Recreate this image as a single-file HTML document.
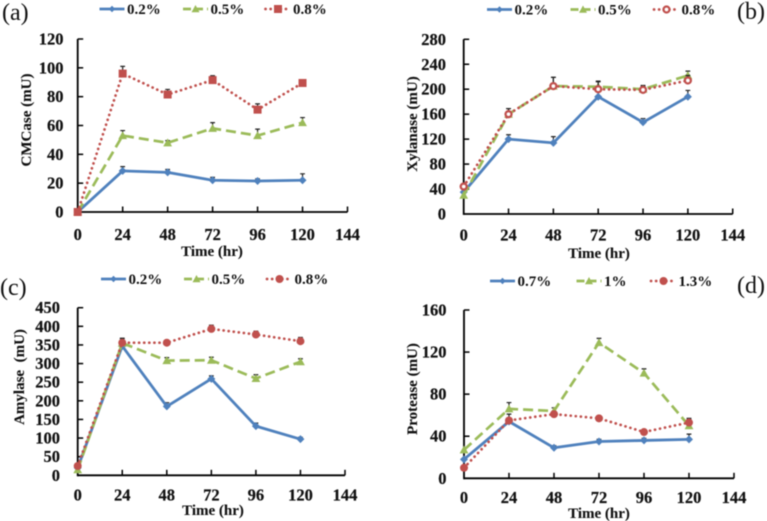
<!DOCTYPE html>
<html lang="en">
<head>
<meta charset="utf-8">
<title>Enzyme activity charts</title>
<style>
html,body{margin:0;padding:0;background:#fff;}
svg{display:block;filter:blur(0.45px);}
text{font-family:"Liberation Serif",serif;fill:#111;}
.tick{font-size:16.5px;font-weight:bold;stroke:#111;stroke-width:0.2px;}
.title{font-size:15px;font-weight:bold;stroke:#111;stroke-width:0.1px;}
.leg{font-size:15px;font-weight:bold;}
.tag{font-size:24px;}
</style>
</head>
<body>
<svg id="fig" xmlns="http://www.w3.org/2000/svg" width="767" height="521" viewBox="0 0 767 521"></svg>
<script>
const hours = [0, 24, 48, 72, 96, 120];
const xTickLabels = [0, 24, 48, 72, 96, 120, 144];

const cmcaseTicks = [0, 20, 40, 60, 80, 100, 120];
const cmcaseLow = [0, 28.5, 27.5, 22, 21.5, 22];
const cmcaseLowErr = [0, 3, 2, 2, 1.5, 4.5];
const cmcaseMid = [0, 53, 48, 58, 53, 62];
const cmcaseMidErr = [0, 3.5, 1.5, 4, 4.5, 3.5];
const cmcaseHigh = [0, 96, 81.5, 91.5, 71, 89.5];
const cmcaseHighErr = [0, 5, 3.5, 3, 4, 1.5];

const xylanaseTicks = [0, 40, 80, 120, 160, 200, 240, 280];
const xylanaseLow = [35, 120, 114, 188, 147, 188];
const xylanaseLowErr = [0, 7, 10, 8, 6, 10];
const xylanaseMid = [30, 160, 205, 204, 200, 222];
const xylanaseMidErr = [0, 9, 14, 8, 6, 7];
const xylanaseHigh = [44, 160, 205, 200, 199, 214];
const xylanaseHighErr = [0, 9, 14, 13, 6, 8];

const amylaseTicks = [0, 50, 100, 150, 200, 250, 300, 350, 400, 450];
const amylaseLow = [20, 347, 185, 259, 132, 97];
const amylaseLowErr = [0, 10, 10, 8, 8, 5];
const amylaseMid = [15, 355, 308, 309, 260, 305];
const amylaseMidErr = [0, 12, 8, 8, 10, 8];
const amylaseHigh = [25, 356, 356, 393, 378, 360];
const amylaseHighErr = [0, 12, 5, 10, 9, 10];

const proteaseTicks = [0, 40, 80, 120, 160];
const proteaseLow = [18, 54, 29, 35, 36, 37];
const proteaseLowErr = [0, 3, 2, 2, 2, 5];
const proteaseMid = [27, 66, 64, 129, 100, 50];
const proteaseMidErr = [0, 6, 3, 4, 4, 6];
const proteaseHigh = [10, 55, 61, 57, 44, 53];
const proteaseHighErr = [0, 6, 2, 2, 2, 4];

const BLUE = '#4f81bd', GREEN = '#9bbb59', RED = '#c0504d';
const svg = document.getElementById('fig');

function mk(parent, tag, attrs, txt) {
  const el = document.createElementNS('http://www.w3.org/2000/svg', tag);
  for (const k in attrs) el.setAttribute(k, attrs[k]);
  if (txt !== undefined) el.textContent = txt;
  parent.appendChild(el);
  return el;
}

function marker(g, kind, x, y, color, small) {
  let el;
  if (kind === 'diamond') {
    const r = small ? 3.2 : 4;
    el = mk(g, 'polygon', {points: (x-r)+','+y+' '+x+','+(y-r)+' '+(x+r)+','+y+' '+x+','+(y+r), fill: color});
  } else if (kind === 'triangle') {
    const r = small ? 4 : 4.4;
    el = mk(g, 'polygon', {points: (x-r)+','+(y+r*0.8)+' '+x+','+(y-r)+' '+(x+r)+','+(y+r*0.8), fill: color});
  } else if (kind === 'square') {
    const r = 4;
    el = mk(g, 'rect', {x: x-r, y: y-r, width: 2*r, height: 2*r, fill: color});
  } else if (kind === 'ring') {
    el = mk(g, 'circle', {cx: x, cy: y, r: 3, fill: '#fff', stroke: color, 'stroke-width': 2.3});
  } else {
    el = mk(g, 'circle', {cx: x, cy: y, r: 4, fill: color});
  }
  
  
}

const styles = [
  {color: BLUE, width: 2.8, dash: 'none', cap: 'butt'},
  {color: GREEN, width: 2.7, dash: '10 5', cap: 'butt'},
  {color: RED, width: 2.7, dash: '0.1 5', cap: 'round'}
];

function drawPanel(p) {
  const g = mk(svg, 'g', {});
  
  
  const xMax = xTickLabels[xTickLabels.length - 1];
  const yMax = p.ticks[p.ticks.length - 1];
  const sx = v => p.x0 + (p.x1 - p.x0) * v / xMax;
  const sy = v => p.y0 - (p.y0 - p.y1) * v / yMax;

  const axX = mk(g, 'path', {d: 'M' + p.x0 + ' ' + p.y0 + 'H' + p.x1, stroke: '#000', 'stroke-width': 1.8, fill: 'none'});
  
  
  const axY = mk(g, 'path', {d: 'M' + p.x0 + ' ' + (p.y0 + 0.9) + 'V' + p.y1, stroke: '#000', 'stroke-width': 1.8, fill: 'none'});
  
  

  xTickLabels.forEach(v => {
    if (v > 0) {
      const t = mk(g, 'path', {d: 'M' + sx(v) + ' ' + p.y0 + 'v-5.5', stroke: '#000', 'stroke-width': 1.5});
      
      
    }
    const l = mk(g, 'text', {x: sx(v), y: p.xLabelY, 'text-anchor': 'middle', class: 'tick'}, v);
    
    
  });
  p.ticks.forEach(v => {
    if (v > 0) {
      const t = mk(g, 'path', {d: 'M' + p.x0 + ' ' + sy(v) + 'h5.5', stroke: '#000', 'stroke-width': 1.5});
      
      
    }
    const l = mk(g, 'text', {x: p.yLabelX, y: sy(v) + 5.5, 'text-anchor': 'end', class: 'tick'}, v);
    
    
  });

  const xt = mk(g, 'text', {x: p.xTitle[0], y: p.xTitle[1], 'text-anchor': 'middle', class: 'title'}, 'Time (hr)');
  
  
  const yt = mk(g, 'text', {transform: 'translate(' + p.yTitle[0] + ' ' + p.yTitle[1] + ') rotate(-90)', 'text-anchor': 'middle', class: 'title'}, p.yLabel);
  
  
  const tag = mk(g, 'text', {x: p.tag[0], y: p.tag[1], class: 'tag'}, p.tag[2]);
  
  

  p.series.forEach((s, i) => {
    const st = styles[i];
    const sg = mk(g, 'g', {});
    
    
    hours.forEach((h, j) => {
      if (!s.err[j]) return;
      const x = sx(h), top = sy(s.values[j] + s.err[j]);
      const e = mk(sg, 'path', {d: 'M' + x + ' ' + sy(s.values[j]) + 'V' + top + 'M' + (x - 2.4) + ' ' + top + 'h4.8', stroke: '#222', 'stroke-width': 1.2, fill: 'none'});
      
      
    });
    const pts = hours.map((h, j) => sx(h) + ',' + sy(s.values[j])).join(' ');
    const ln = mk(sg, 'polyline', {points: pts, fill: 'none', stroke: st.color, 'stroke-width': st.width, 'stroke-dasharray': st.dash, 'stroke-linecap': st.cap, 'stroke-linejoin': 'round'});
    
    
    hours.forEach((h, j) => marker(sg, s.marker, sx(h), sy(s.values[j]), st.color));

    const lg = mk(g, 'g', {});
    
    
    const lx = p.legendX[i];
    const ll = mk(lg, 'path', {d: 'M' + lx + ' ' + p.legendY + 'h25', stroke: st.color, 'stroke-width': st.width, 'stroke-dasharray': st.dash === 'none' ? 'none' : (i === 1 ? '8 4' : '0.1 5'), 'stroke-linecap': st.cap, fill: 'none'});
    
    
    marker(lg, s.marker, lx + 12.5, p.legendY, st.color, true);
    const lt = mk(lg, 'text', {x: lx + 27.5, y: p.legendY + 5, class: 'leg'}, s.name);
    
    
  });
}

drawPanel({
  id: 'a', yLabel: 'CMCase (mU)', ticks: cmcaseTicks,
  x0: 77.7, x1: 347.5, y0: 212, y1: 39,
  xLabelY: 240, yLabelX: 63.5, xTitle: [212, 256], yTitle: [31, 120], tag: [2, 20, '(a)'],
  legendX: [99.5, 183, 265.5], legendY: 9,
  series: [
    {name: '0.2%', marker: 'diamond', values: cmcaseLow, err: cmcaseLowErr},
    {name: '0.5%', marker: 'triangle', values: cmcaseMid, err: cmcaseMidErr},
    {name: '0.8%', marker: 'square', values: cmcaseHigh, err: cmcaseHighErr}
  ]
});
drawPanel({
  id: 'b', yLabel: 'Xylanase (mU)', ticks: xylanaseTicks,
  x0: 463.7, x1: 732.7, y0: 214, y1: 39.3,
  xLabelY: 240.5, yLabelX: 446, xTitle: [599, 258], yTitle: [417, 124], tag: [737, 19, '(b)'],
  legendX: [487, 570.5, 654], legendY: 9.5,
  series: [
    {name: '0.2%', marker: 'diamond', values: xylanaseLow, err: xylanaseLowErr},
    {name: '0.5%', marker: 'triangle', values: xylanaseMid, err: xylanaseMidErr},
    {name: '0.8%', marker: 'ring', values: xylanaseHigh, err: xylanaseHighErr}
  ]
});
drawPanel({
  id: 'c', yLabel: 'Amylase\u00a0 (mU)', ticks: amylaseTicks,
  x0: 77.7, x1: 345, y0: 475.3, y1: 307.7,
  xLabelY: 500.5, yLabelX: 60, xTitle: [213, 515], yTitle: [24, 377], tag: [0, 295, '(c)'],
  legendX: [101, 184, 267], legendY: 279,
  series: [
    {name: '0.2%', marker: 'diamond', values: amylaseLow, err: amylaseLowErr},
    {name: '0.5%', marker: 'triangle', values: amylaseMid, err: amylaseMidErr},
    {name: '0.8%', marker: 'circle', values: amylaseHigh, err: amylaseHighErr}
  ]
});
drawPanel({
  id: 'd', yLabel: 'Protease (mU)', ticks: proteaseTicks,
  x0: 464, x1: 734, y0: 478.3, y1: 310,
  xLabelY: 503, yLabelX: 446.5, xTitle: [599, 518], yTitle: [417, 389], tag: [737, 293, '(d)'],
  legendX: [490, 576.5, 651], legendY: 281,
  series: [
    {name: '0.7%', marker: 'diamond', values: proteaseLow, err: proteaseLowErr},
    {name: '1%', marker: 'triangle', values: proteaseMid, err: proteaseMidErr},
    {name: '1.3%', marker: 'circle', values: proteaseHigh, err: proteaseHighErr}
  ]
});
</script>
</body>
</html>
